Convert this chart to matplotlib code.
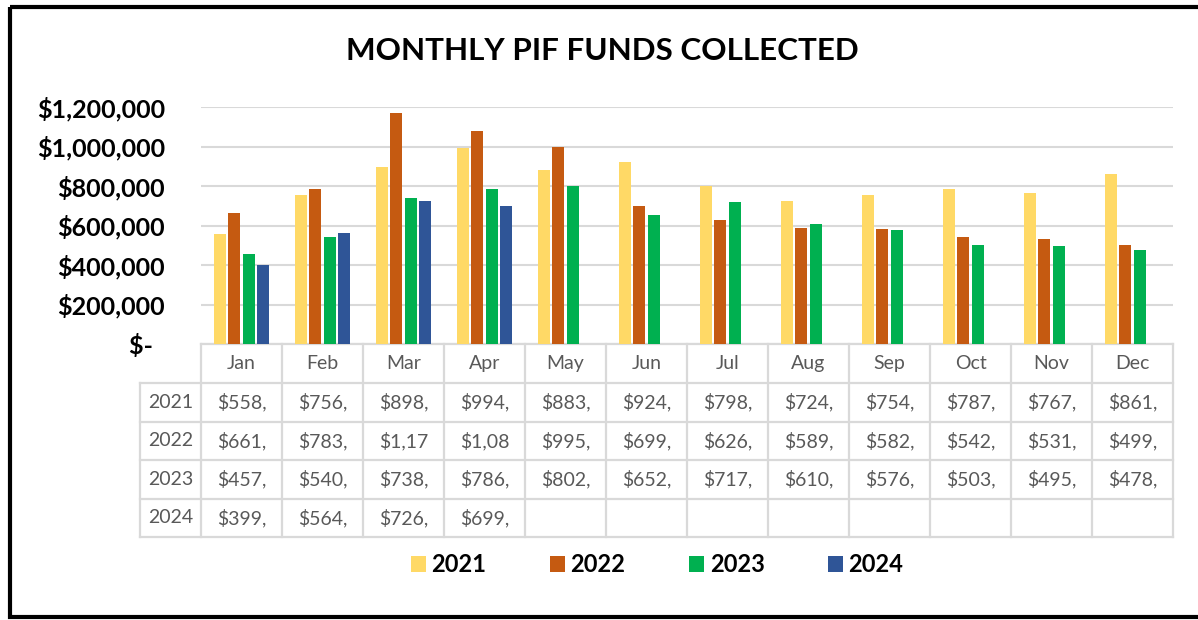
import numpy as np
import matplotlib
matplotlib.use("Agg")
import matplotlib.pyplot as plt
from matplotlib.patches import Rectangle
from matplotlib.ticker import FuncFormatter

# data
months = ["Jan", "Feb", "Mar", "Apr", "May", "Jun", "Jul", "Aug", "Sep", "Oct", "Nov", "Dec"]
years = ["2021", "2022", "2023", "2024"]
funds_2021 = [558000, 756000, 898000, 994000, 883000, 924000, 798000, 724000, 754000, 787000, 767000, 861000]
funds_2022 = [661000, 783000, 1171000, 1080000, 995000, 699000, 626000, 589000, 582000, 542000, 531000, 499000]
funds_2023 = [457000, 540000, 738000, 786000, 802000, 652000, 717000, 610000, 576000, 503000, 495000, 478000]
funds_2024 = [399000, 564000, 726000, 699000]
colors = ["#FFD966", "#C55A11", "#00B050", "#2F5597"]

series = [funds_2021, funds_2022, funds_2023, funds_2024]

W, H = 1198, 620
fig = plt.figure(figsize=(W / 100, H / 100), dpi=100)
plt.rcParams["font.family"] = ["Lato", "DejaVu Sans"]

# plot area in pixels
x0, x1 = 201, 1173
y_top, y_bot = 107, 344
ax = fig.add_axes([x0 / W, 1 - y_bot / H, (x1 - x0) / W, (y_bot - y_top) / H])

step = 0.18
width = 0.148
for k, (vals, col, yr) in enumerate(zip(series, colors, years)):
    xs = np.arange(len(vals)) + (k - 1.5) * step
    ax.bar(xs, vals, width=width, color=col, label=yr, zorder=3)

ax.set_xlim(-0.5, 11.5)
ax.set_ylim(0, 1200000)
ax.set_yticks(np.arange(0, 1200001, 200000))


def money(v, pos):
    if v == 0:
        return "$-  "
    return f"${v:,.0f}"


ax.yaxis.set_major_formatter(FuncFormatter(money))
ax.tick_params(axis="y", length=0, pad=26, labelsize=18)
for lab in ax.get_yticklabels():
    lab.set_fontweight("bold")
ax.set_xticks([])
ax.grid(axis="y", color="#D9D9D9", linewidth=1.5, zorder=0)
for s in ax.spines.values():
    s.set_visible(False)
ax.patch.set_alpha(0)

# data table drawn underneath in pixel coordinates
ov = fig.add_axes([0, 0, 1, 1], zorder=-1)
ov.set_xlim(0, W)
ov.set_ylim(H, 0)
ov.axis("off")

col_w = (x1 - x0) / 12
row_y = [344, 383, 421.5, 460, 498.5, 537]
line_c = "#D9D9D9"
lw = 1.6
ov.plot([x0, x1], [row_y[0], row_y[0]], color=line_c, lw=lw)
for y in row_y[1:]:
    ov.plot([140, x1], [y, y], color=line_c, lw=lw)
ov.plot([140, 140], [row_y[1], row_y[-1]], color=line_c, lw=lw)
for i in range(13):
    xx = x0 + i * col_w
    ov.plot([xx, xx], [row_y[0], row_y[-1]], color=line_c, lw=lw)

txt_c = "#595959"
for i, m in enumerate(months):
    ov.text(x0 + (i + 0.5) * col_w, (row_y[0] + row_y[1]) / 2, m, ha="center", va="center",
            fontsize=14, color=txt_c)
for r, (yr, vals) in enumerate(zip(years, series)):
    yc = (row_y[r + 1] + row_y[r + 2]) / 2
    ov.text(170.5, yc, yr, ha="center", va="center", fontsize=14, color=txt_c)
    for i, v in enumerate(vals):
        # cells are too narrow in the original, values show cut off
        ov.text(x0 + (i + 0.5) * col_w, yc, f"${v:,.0f}"[:5], ha="center", va="center",
                fontsize=14, color=txt_c)

# black frame
ov.add_patch(Rectangle((10, 6.5), 1250, 610, fill=False, edgecolor="black", lw=3, clip_on=False))

fig.text(602 / W, 1 - 51 / H, "MONTHLY PIF FUNDS COLLECTED", ha="center", va="center",
         fontsize=22.6, fontweight="bold")

fig.legend(loc="center", bbox_to_anchor=(657 / W, 1 - 565 / H), ncol=4, frameon=False,
           prop={"weight": "bold", "size": 17},
           handlelength=0.64, handleheight=0.64, handletextpad=0.25, columnspacing=2.67)

fig.savefig("out.png", dpi=100)
